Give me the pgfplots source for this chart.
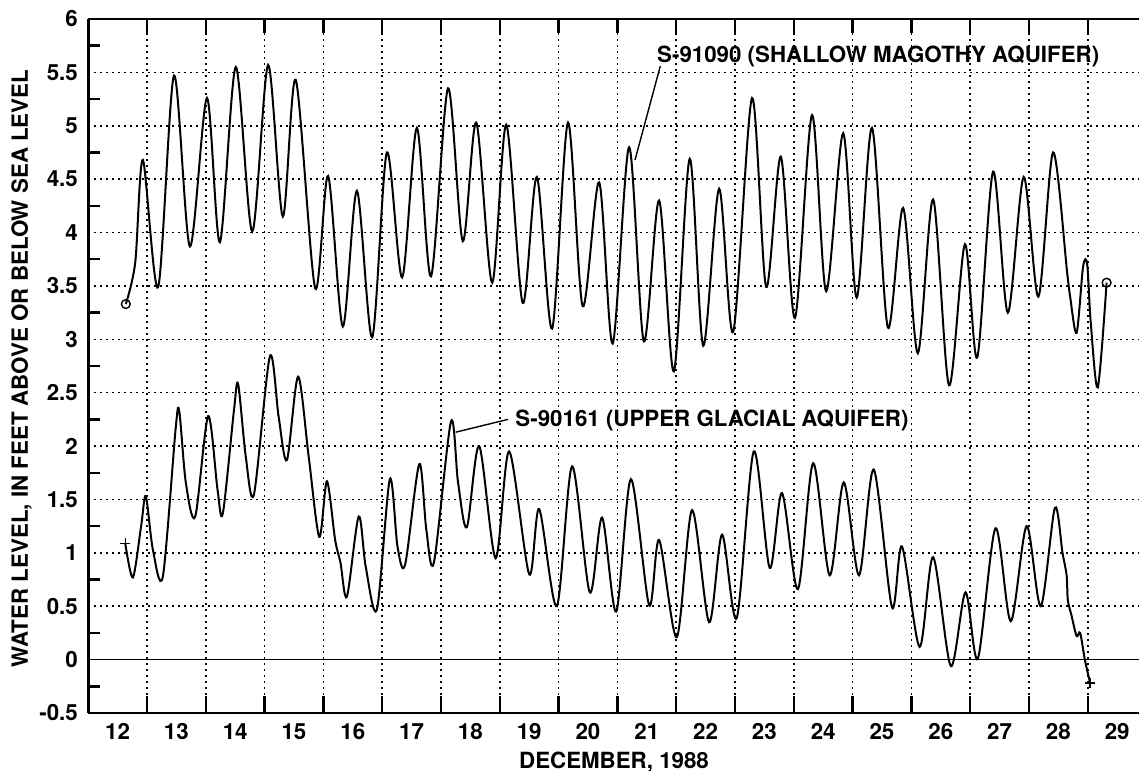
\documentclass[border=0pt]{standalone}
\usepackage{fontspec}
\setmainfont{TeX Gyre Heros}
\usepackage{pgfplots}
\pgfplotsset{compat=1.18}

\tikzset{dotgrid/.style={black, line width=0.8bp, dash pattern=on 0.8bp off 2.2bp}}

\begin{document}
\begin{tikzpicture}
\begin{axis}[
    scale only axis,
    width=525.4bp, height=347bp,
    xmin=12, xmax=29.871, ymin=-0.5, ymax=6,
    axis x line*=box, axis y line*=left,
    axis line style={line width=1.4bp},
    font=\fontsize{11.2}{13.4}\selectfont\bfseries,
    /pgf/number format/assume math mode=true,
    xtick={12.5,13.5,14.5,15.5,16.5,17.5,18.5,19.5,20.5,21.5,22.5,23.5,24.5,25.5,26.5,27.5,28.5,29.5},
    xticklabels={12,13,14,15,16,17,18,19,20,21,22,23,24,25,26,27,28,29},
    ytick={-0.5,0,...,6},
    minor ytick={-0.25,0.25,...,5.75},
    major tick length=0pt, minor tick length=6bp,
    every minor tick/.append style={line width=1.2bp, black},
    ymajorgrids=true,
    grid style={dotgrid},
    xticklabel style={anchor=base, yshift=-13bp},
    yticklabel style={anchor=east, inner sep=0pt, xshift=-5bp},
    xlabel={DECEMBER, 1988},
    ylabel={WATER LEVEL, IN FEET ABOVE OR BELOW SEA LEVEL},
    every axis x label/.style={at={(axis description cs:0.5004,-0.0793)}, anchor=base},
    every axis y label/.style={at={(axis description cs:-0.0573,0.4964)}, rotate=90, anchor=base},
]
\coordinate (bl) at (rel axis cs:0,0);
\coordinate (tr) at (rel axis cs:1,1);

% day boundaries: dotted grid and inward ticks at bottom and top
\pgfplotsinvokeforeach{13,14,15,16,17,18,19,20,21,22,23,24,25,26,27,28,29}{
  \draw[dotgrid] (axis cs:#1,-0.5) -- (axis cs:#1,6);
  \draw[black, line width=1.2bp] (axis cs:#1,-0.5) -- ([yshift=8.5bp]axis cs:#1,-0.5);
  \draw[black, line width=1.2bp] (axis cs:#1,6) -- ([yshift=-7bp]axis cs:#1,6);
}

% sea level
\addplot[black, line width=0.7bp, forget plot] coordinates {(12,0) (29.871,0)};

% S-91090 shallow Magothy aquifer
\addplot[black, line width=1bp, smooth] coordinates {
(12.64,3.33) (12.80,3.72) (12.93,4.68) (13.19,3.49) (13.46,5.47)
(13.73,3.87) (14.02,5.26) (14.24,3.91) (14.51,5.55) (14.79,4.01) (15.06,5.57)
(15.31,4.15) (15.53,5.43) (15.86,3.48) (16.08,4.53) (16.33,3.12) (16.57,4.39)
(16.83,3.02) (17.08,4.75) (17.34,3.58) (17.59,4.98) (17.83,3.59)
(18.12,5.35) (18.37,3.92) (18.60,5.03) (18.87,3.53) (19.11,5.01) (19.39,3.34)
(19.63,4.52) (19.89,3.10) (20.16,5.03) (20.41,3.31) (20.69,4.47) (20.92,2.96)
(21.20,4.80) (21.45,2.98) (21.71,4.30) (21.96,2.70) (22.23,4.69) (22.46,2.94)
(22.73,4.41) (22.97,3.07) (23.29,5.26) (23.53,3.49) (23.78,4.71) (24.02,3.20)
(24.31,5.10) (24.55,3.45) (24.84,4.93) (25.07,3.39) (25.33,4.98) (25.60,3.11)
(25.86,4.23) (26.11,2.87) (26.37,4.31) (26.64,2.57) (26.91,3.89) (27.12,2.83)
(27.39,4.57) (27.64,3.25) (27.91,4.52) (28.16,3.40) (28.41,4.75) (28.65,3.62)
(28.70,3.40) (28.81,3.06) (28.92,3.68) (28.99,3.70) (29.05,3.16) (29.17,2.55)
(29.32,3.53)
};
\addplot[only marks, black, mark=o, mark size=2.2bp, mark options={line width=0.7bp}]
  coordinates {(12.64,3.33) (29.32,3.53)};

% S-90161 upper glacial aquifer
\addplot[black, line width=1bp, smooth] coordinates {
(12.63,1.09) (12.76,0.77) (12.90,1.25) (12.98,1.53) (13.10,1.03) (13.27,0.78)
(13.49,2.18) (13.55,2.32) (13.66,1.66) (13.82,1.34) (14.04,2.28) (14.20,1.59)
(14.29,1.37) (14.48,2.34) (14.55,2.58) (14.68,1.90) (14.82,1.55) (15.09,2.84)
(15.24,2.27) (15.38,1.87) (15.57,2.65) (15.75,1.90) (15.93,1.15) (16.06,1.67)
(16.20,1.12) (16.29,0.91) (16.40,0.59) (16.60,1.34) (16.72,0.87) (16.91,0.47)
(17.13,1.69) (17.26,1.06) (17.39,0.89) (17.63,1.83) (17.75,1.22) (17.88,0.91)
(18.17,2.23) (18.29,1.66) (18.44,1.24) (18.65,2.00) (18.93,0.95) (19.16,1.95)
(19.50,0.80) (19.67,1.41) (19.97,0.50) (20.23,1.81) (20.53,0.63) (20.74,1.33)
(20.98,0.45) (21.23,1.69) (21.54,0.51) (21.71,1.12) (22.01,0.21) (22.27,1.40)
(22.56,0.35) (22.78,1.17) (23.03,0.39) (23.32,1.95) (23.59,0.86) (23.80,1.56)
(24.07,0.66) (24.33,1.84) (24.61,0.79) (24.85,1.66) (25.11,0.79) (25.36,1.78)
(25.67,0.49) (25.84,1.06) (26.14,0.12) (26.37,0.96) (26.67,-0.06) (26.92,0.63)
(27.13,0.01) (27.43,1.23) (27.69,0.36) (27.96,1.25) (28.20,0.50) (28.44,1.42)
(28.57,1.00) (28.64,0.79) (28.66,0.56) (28.72,0.42) (28.81,0.22) (28.87,0.25)
(28.95,0.00) (29.04,-0.22)
};
\addplot[only marks, black, mark=+, mark size=2.5bp, mark options={line width=0.7bp}]
  coordinates {(12.63,1.09) (29.04,-0.22)};

% labels
\draw[line width=0.7bp] (axis cs:21.73,5.56) -- (axis cs:21.30,4.68);
\node[anchor=base west, inner sep=0pt] at (axis cs:21.67,5.59) {S-91090 (SHALLOW MAGOTHY AQUIFER)};
\draw[line width=0.7bp] (axis cs:19.14,2.25) -- (axis cs:18.25,2.13);
\node[anchor=base west, inner sep=0pt] at (axis cs:19.26,2.18) {S-90161 (UPPER GLACIAL AQUIFER)};
\end{axis}
\pgfresetboundingbox
\path[use as bounding box] ([shift={(-44.1bp,-29bp)}]bl) rectangle ([shift={(0bp,9.5bp)}]tr);
\end{tikzpicture}
\end{document}
